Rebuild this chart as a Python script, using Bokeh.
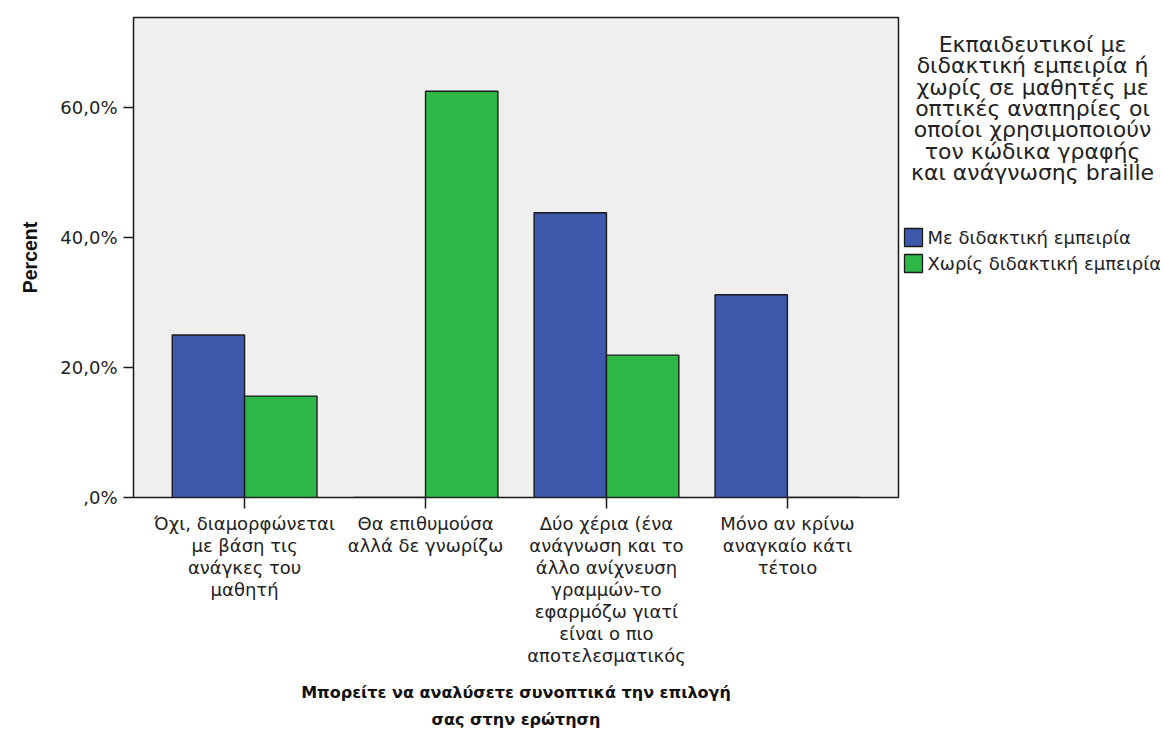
from bokeh.plotting import figure
from bokeh.models import FactorRange, Range1d, FixedTicker, ColumnDataSource
from bokeh.layouts import row
from bokeh.transform import dodge
from bokeh.core.properties import value
from bokeh.embed import file_html
from bokeh.resources import INLINE

# ---- data ----
categories = [
    "Όχι, διαμορφώνεται\nμε βάση τις\nανάγκες του\nμαθητή",
    "Θα επιθυμούσα\nαλλά δε γνωρίζω",
    "Δύο χέρια (ένα\nανάγνωση και το\nάλλο ανίχνευση\nγραμμών-το\nεφαρμόζω γιατί\nείναι ο πιο\nαποτελεσματικός",
    "Μόνο αν κρίνω\nαναγκαίο κάτι\nτέτοιο",
]
series_names = ["Με διδακτική εμπειρία", "Χωρίς διδακτική εμπειρία"]
with_experience = [25.0, 0.0, 43.8, 31.2]
without_experience = [15.6, 62.5, 21.9, 0.0]
y_ticks = [0, 20, 40, 60]
y_tick_labels = [",0%", "20,0%", "40,0%", "60,0%"]
legend_title_lines = [
    "Εκπαιδευτικοί με",
    "διδακτική εμπειρία ή",
    "χωρίς σε μαθητές με",
    "οπτικές αναπηρίες οι",
    "οποίοι χρησιμοποιούν",
    "τον κώδικα γραφής",
    "και ανάγνωσης braille",
]
x_title = "Μπορείτε να αναλύσετε συνοπτικά την επιλογή\nσας στην ερώτηση"
y_title = "Percent"

BLUE = "#3E58AC"
GREEN = "#2EB848"
series_colors = [BLUE, GREEN]
EDGE = "#1a1a1a"
FONT = "DejaVu Sans"
FRAME_TOP, FRAME_H = 17, 480

source = ColumnDataSource(dict(cat=categories, a=with_experience, b=without_experience))

p = figure(
    x_range=FactorRange(*categories, range_padding=0.057),
    y_range=Range1d(0, 73.85),
    frame_width=765, frame_height=FRAME_H,
    min_border_left=133, min_border_top=FRAME_TOP, min_border_right=4, min_border_bottom=238,
    output_backend="svg", toolbar_location=None,
    background_fill_color="#EFEFEF", border_fill_color="white",
)
p.xgrid.visible = False
p.ygrid.visible = False
p.outline_line_color = EDGE
p.outline_line_width = 1.5

p.vbar(x=dodge("cat", -0.2, range=p.x_range), top="a", width=0.4, source=source,
       fill_color=BLUE, line_color=EDGE, line_width=1.4)
p.vbar(x=dodge("cat", 0.2, range=p.x_range), top="b", width=0.4, source=source,
       fill_color=GREEN, line_color=EDGE, line_width=1.4)

# y axis
p.yaxis.ticker = FixedTicker(ticks=y_ticks)
p.yaxis.major_label_overrides = {t: l for t, l in zip(y_ticks, y_tick_labels)}
p.yaxis.minor_tick_line_color = None
p.yaxis.major_tick_out = 10
p.yaxis.major_tick_in = 0
p.yaxis.major_tick_line_color = EDGE
p.yaxis.major_tick_line_width = 1.5
p.yaxis.axis_line_color = None
p.yaxis.major_label_text_font = FONT
p.yaxis.major_label_text_font_size = "18px"
p.yaxis.major_label_text_color = "#222222"
p.yaxis.major_label_standoff = 6
p.yaxis.axis_label = y_title
p.yaxis.axis_label_text_font = "Liberation Sans"
p.yaxis.axis_label_text_font_style = "bold"
p.yaxis.axis_label_text_font_size = "19.5px"
p.yaxis.axis_label_text_color = "#111111"
p.yaxis.axis_label_standoff = 16

# x axis
p.xaxis.major_tick_out = 11
p.xaxis.major_tick_in = 0
p.xaxis.major_tick_line_color = EDGE
p.xaxis.major_tick_line_width = 1.5
p.xaxis.axis_line_color = None
p.xaxis.major_label_text_font = FONT
p.xaxis.major_label_text_font_size = "18px"
p.xaxis.major_label_text_line_height = 1.05
p.xaxis.major_label_text_color = "#222222"
p.xaxis.major_label_standoff = 4
p.xaxis.axis_label = x_title
p.xaxis.axis_label_text_font = "DejaVu Sans"
p.xaxis.axis_label_text_font_style = "bold"
p.xaxis.axis_label_text_font_size = "16px"
p.xaxis.axis_label_text_line_height = 1.45
p.xaxis.axis_label_text_color = "#111111"
p.xaxis.axis_label_standoff = 14

# ---- right-hand legend panel (frame aligned with the main frame; page pixel coords) ----
X0, W2 = 902, 258
q = figure(
    frame_width=W2, frame_height=FRAME_H,
    x_range=Range1d(X0, X0 + W2), y_range=Range1d(FRAME_TOP + FRAME_H, FRAME_TOP),
    min_border=0, output_backend="svg", toolbar_location=None,
    x_axis_type=None, y_axis_type=None, outline_line_color=None,
    background_fill_color="white", border_fill_color="white",
)
q.xgrid.visible = False
q.ygrid.visible = False

# legend title
title_x = [1032] * len(legend_title_lines)
title_y = [44 + 21.3 * i for i in range(len(legend_title_lines))]
q.text(x=title_x, y=title_y, text=legend_title_lines,
       text_align="center", text_baseline="middle",
       text_font=value(FONT), text_font_size="22px", text_color="#222222")

# legend entries
entry_y = [237 + 26 * i for i in range(len(series_names))]
q.rect(x=[913] * len(series_names), y=entry_y, width=18, height=18,
       fill_color=series_colors, line_color=EDGE, line_width=1.3)
q.text(x=[927] * len(series_names), y=entry_y, text=series_names,
       text_align="left", text_baseline="middle",
       text_font=value(FONT), text_font_size="18px", text_color="#222222")

layout = row(p, q, spacing=0)
open("out.html", "w").write(file_html(layout, INLINE))
